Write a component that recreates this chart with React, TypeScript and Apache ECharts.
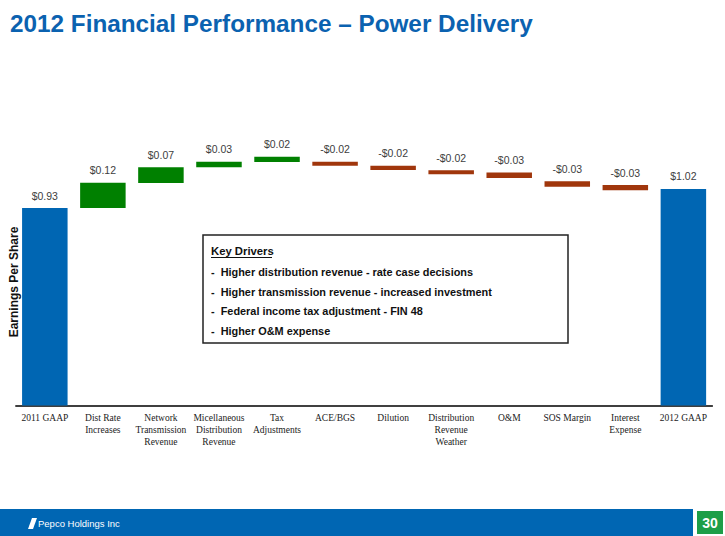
import React, { useEffect, useRef } from "react";
import * as echarts from "echarts";

const categories = [
  "2011 GAAP",
  "Dist Rate\nIncreases",
  "Network\nTransmission\nRevenue",
  "Micellaneous\nDistribution\nRevenue",
  "Tax\nAdjustments",
  "ACE/BGS",
  "Dilution",
  "Distribution\nRevenue\nWeather",
  "O&M",
  "SOS Margin",
  "Interest\nExpense",
  "2012 GAAP",
];

// Displayed change per step (totals for first/last)
const changes = [0.93, 0.12, 0.07, 0.03, 0.02, -0.02, -0.02, -0.02, -0.03, -0.03, -0.03, 1.02];

// Bar extents ($ per share)
const barBottoms = [0, 0.93, 1.048, 1.122, 1.147, 1.1295, 1.109, 1.089, 1.072, 1.031, 1.0137, 0];
const barTops = [0.93, 1.0495, 1.122, 1.148, 1.172, 1.148, 1.1295, 1.108, 1.098, 1.056, 1.0386, 1.02];

const title = "2012 Financial Performance – Power Delivery";
const yAxisTitle = "Earnings Per Share";
const driversTitle = "Key Drivers";
const drivers = [
  "-  Higher distribution revenue - rate case decisions",
  "-  Higher transmission revenue - increased investment",
  "-  Federal income tax adjustment - FIN 48",
  "-  Higher O&M expense",
];
const footerText = "Pepco Holdings Inc";
const pageNumber = "30";

const BLUE = "#0066B3";
const GREEN = "#008000";
const RED = "#A0360C";

function fmt(v: number) {
  return (v < 0 ? "-$" : "$") + Math.abs(v).toFixed(2);
}

export default function App() {
  const ref = useRef<HTMLDivElement>(null);

  useEffect(() => {
    if (!ref.current) return;
    const chart = echarts.init(ref.current, undefined, { renderer: "svg" });
    const last = categories.length - 1;

    const driverTexts = drivers.map((d, i) => ({
      type: "text",
      x: 211,
      y: 272 + i * 19.7,
      z: 11,
      style: {
        text: d,
        font: "bold 10.9px Arial, 'Liberation Sans', sans-serif",
        fill: "#111",
        verticalAlign: "middle",
      },
    }));

    chart.setOption({
      animation: false,
      backgroundColor: "#ffffff",
      grid: { left: 15.8, right: 12.6, top: 108.3, bottom: 130.5, containLabel: false },
      xAxis: {
        type: "category",
        data: categories,
        axisLine: { show: true, lineStyle: { color: "#000", width: 1.5 } },
        axisTick: { show: false },
        axisLabel: {
          interval: 0,
          margin: 6,
          fontFamily: "'Liberation Serif', 'Times New Roman', serif",
          fontSize: 9.5,
          lineHeight: 12,
          color: "#222",
        },
      },
      yAxis: {
        type: "value",
        min: 0,
        max: 1.4,
        show: false,
        splitLine: { show: false },
      },
      series: [
        {
          type: "bar",
          stack: "w",
          barWidth: 45.5,
          silent: true,
          itemStyle: { color: "rgba(0,0,0,0)" },
          data: barBottoms,
        },
        {
          type: "bar",
          stack: "w",
          barWidth: 45.5,
          data: barTops.map((t, i) => ({
            value: +(t - barBottoms[i]).toFixed(4),
            itemStyle: {
              color: i === 0 || i === last ? BLUE : changes[i] > 0 ? GREEN : RED,
            },
          })),
          label: {
            show: true,
            position: "top",
            distance: 7,
            fontFamily: "Arial, 'Liberation Sans', sans-serif",
            fontSize: 10.5,
            color: "#404040",
            formatter: (p: any) => fmt(changes[p.dataIndex]),
          },
        },
      ],
      graphic: [
        {
          type: "text",
          x: 10,
          y: 23,
          style: {
            text: title,
            font: "bold 24.3px Arial, 'Liberation Sans', sans-serif",
            fill: "#0B62B0",
            verticalAlign: "middle",
          },
        },
        {
          type: "text",
          x: 14,
          y: 282,
          rotation: Math.PI / 2,
          style: {
            text: yAxisTitle,
            font: "bold 12px Arial, 'Liberation Sans', sans-serif",
            fill: "#111",
            align: "center",
            verticalAlign: "middle",
          },
        },
        {
          type: "rect",
          z: 10,
          shape: { x: 203, y: 235, width: 365, height: 108 },
          style: { fill: "#fff", stroke: "#222", lineWidth: 1.5 },
        },
        {
          type: "text",
          x: 211,
          y: 251,
          z: 11,
          style: {
            text: driversTitle,
            font: "bold 11.3px Arial, 'Liberation Sans', sans-serif",
            fill: "#111",
            verticalAlign: "middle",
          },
        },
        {
          type: "line",
          z: 11,
          shape: { x1: 211, y1: 257.5, x2: 272, y2: 257.5 },
          style: { stroke: "#111", lineWidth: 1 },
        },
        ...driverTexts,
        {
          type: "rect",
          shape: { x: 0, y: 509, width: 693, height: 27 },
          style: { fill: "#0066B3" },
        },
        {
          type: "polygon",
          shape: { points: [[32, 518], [37, 518], [33, 529], [28, 529]] },
          style: { fill: "#fff" },
        },
        {
          type: "text",
          x: 38,
          y: 523.5,
          style: {
            text: footerText,
            font: "9.5px Arial, 'Liberation Sans', sans-serif",
            fill: "#fff",
            verticalAlign: "middle",
          },
        },
        {
          type: "rect",
          shape: { x: 697, y: 511, width: 26, height: 23 },
          style: { fill: "#1E9E48" },
        },
        {
          type: "text",
          x: 710,
          y: 523,
          style: {
            text: pageNumber,
            font: "bold 14px Arial, 'Liberation Sans', sans-serif",
            fill: "#fff",
            align: "center",
            verticalAlign: "middle",
          },
        },
      ],
    });

    return () => chart.dispose();
  }, []);

  return (
    <div
      ref={ref}
      style={{ position: "fixed", left: 0, top: 0, width: 725, height: 536 }}
    />
  );
}
